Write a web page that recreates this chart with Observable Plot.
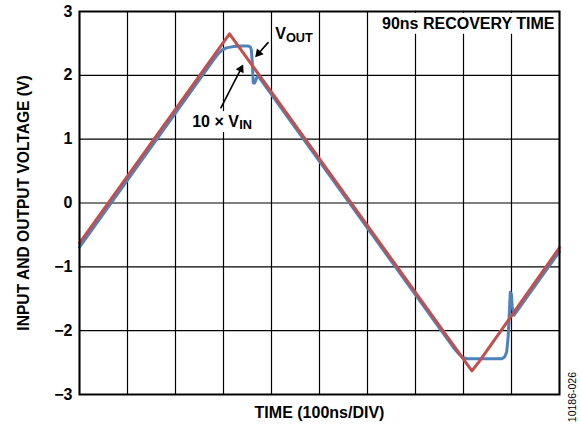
<!DOCTYPE html>
<html>
<head>
<meta charset="utf-8">
<script src="https://cdn.jsdelivr.net/npm/d3@7"></script>
<script src="https://cdn.jsdelivr.net/npm/@observablehq/plot@0.6"></script>
<style>
  html, body { margin: 0; padding: 0; background: #fff; }
</style>
</head>
<body>
<div id="chart"></div>
<script>
// ---- data ----
const xTicks = [0, 100, 200, 300, 400, 500, 600, 700, 800, 900, 1000]; // ns (100 ns/div)
const yTicks = [-3, -2, -1, 0, 1, 2, 3];

// 10 × VIN (red)
const vinTime = [0, 312.5, 817.5, 833, 1000];
const vinVolt = [-0.63, 2.65, -2.63, -2.48, -0.70];

// VOUT (blue)
const voutTime = [0, 280, 288, 296, 306, 320, 340, 352, 356, 358, 360, 362, 365, 369, 372,
                  780, 790, 798, 808, 880, 886, 890, 893, 895, 897.5, 899.5, 901.5, 905, 1000];
const voutVolt = [-0.69, 2.25, 2.33, 2.39, 2.43, 2.45, 2.46, 2.46, 2.44, 2.40, 2.20, 1.88, 1.88, 1.96, 1.99,
                  -2.275, -2.36, -2.42, -2.44, -2.44, -2.41, -2.33, -2.10, -1.80, -1.40, -1.42, -1.62, -1.76, -0.76];

// annotation texts and anchor points (time ns, volts)
const noteMainText = ["V", "10 × V"];
const noteMainTime = [407.7, 234.8];
const noteMainVolt = [2.577, 1.189];
const noteSubText = ["OUT", "IN"];
const noteSubTime = [430, 332.7];
const noteSubVolt = [2.52, 1.161];

// annotation arrows (tail -> tip), time ns, volts
const arrowTailTime = [393.8, 294];
const arrowTailVolt = [2.52, 1.482];
const arrowTipTime = [366, 341];
const arrowTipVolt = [2.285, 2.17];

const titleText = "90ns RECOVERY TIME";
const xLabel = "TIME (100ns/DIV)";
const yLabel = "INPUT AND OUTPUT VOLTAGE (V)";
const codeText = "10186-026";

// ---- layout ----
const W = 581, H = 425, ML = 79, MR = 22, MT = 11, MB = 31;
const kx = (W - ML - MR) / (xTicks[xTicks.length - 1] - xTicks[0]);
const ky = (H - MT - MB) / (yTicks[yTicks.length - 1] - yTicks[0]);

const vin = vinTime.map((t, i) => ({t, v: vinVolt[i]}));
const vout = voutTime.map((t, i) => ({t, v: voutVolt[i]}));
const mainNotes = noteMainText.map((s, i) => ({s, t: noteMainTime[i], v: noteMainVolt[i]}));
const subNotes = noteSubText.map((s, i) => ({s, t: noteSubTime[i], v: noteSubVolt[i]}));

const headR = 3.3;
const heads = arrowTipTime.map((tt, i) => {
  const sx = (tt - arrowTailTime[i]) * kx;
  const sy = -(arrowTipVolt[i] - arrowTailVolt[i]) * ky;
  const len = Math.hypot(sx, sy);
  const ux = sx / len, uy = sy / len;
  const back = 1.555 * headR;
  return {
    t1: arrowTailTime[i], v1: arrowTailVolt[i],
    t: tt - ux * back / kx, v: arrowTipVolt[i] + uy * back / ky,
    angle: Math.atan2(ux, -uy) * 180 / Math.PI
  };
});

const RED = "#c0504d", BLUE = "#4f81bd";
const FONT = "'Liberation Sans', Arial, Helvetica, sans-serif";

const chart = Plot.plot({
  width: W, height: H,
  marginLeft: ML, marginRight: MR, marginTop: MT, marginBottom: MB,
  style: {fontFamily: FONT, fontSize: "16px", fontWeight: "bold", background: "#fff", color: "#000"},
  x: {domain: [xTicks[0], xTicks[xTicks.length - 1]], axis: null},
  y: {domain: [yTicks[0], yTicks[yTicks.length - 1]], axis: null},
  marks: [
    Plot.gridX(xTicks, {stroke: "#000", strokeOpacity: 1, strokeWidth: 1.2}),
    Plot.gridY(yTicks, {stroke: "#000", strokeOpacity: 1, strokeWidth: 1.2}),
    Plot.line(vout, {x: "t", y: "v", stroke: BLUE, strokeWidth: 3, strokeLinejoin: "round", strokeLinecap: "round"}),
    Plot.line(vin, {x: "t", y: "v", stroke: RED, strokeWidth: 3, strokeLinejoin: "round", strokeLinecap: "round"}),
    Plot.text([titleText], {frameAnchor: "top-right", text: d => d, textAnchor: "end", lineAnchor: "bottom",
      dx: -5, dy: 17.3, fontSize: 16, fill: "#000", ariaDescription: "boxed"}),
    Plot.text(mainNotes, {x: "t", y: "v", text: "s", textAnchor: "start", lineAnchor: "bottom",
      fontSize: 16, fill: "#000", ariaDescription: "boxed"}),
    Plot.text(subNotes, {x: "t", y: "v", text: "s", textAnchor: "start", lineAnchor: "bottom",
      fontSize: 12.8, fill: "#000", ariaDescription: "boxed"}),
    Plot.frame({stroke: "#000", strokeWidth: 2}),
    Plot.link(heads, {x1: "t1", y1: "v1", x2: "t", y2: "v", stroke: "#000", strokeWidth: 1.6}),
    Plot.dot(heads, {x: "t", y: "v", r: headR, symbol: "triangle", fill: "#000", stroke: "none", rotate: "angle"}),
    Plot.axisY(yTicks, {tickSize: 0, tickPadding: 7, fontSize: 16, label: null, tickFormat: d3.format("d")}),
    Plot.text([xLabel], {frameAnchor: "bottom", text: d => d, lineAnchor: "bottom", dy: 23, fontSize: 16, fill: "#000"}),
    Plot.text([yLabel], {frameAnchor: "left", text: d => d, rotate: -90, textAnchor: "middle", lineAnchor: "bottom",
      dx: -51, fontSize: 15.6, fill: "#000"}),
    Plot.text([codeText], {frameAnchor: "bottom-right", text: d => d, rotate: -90, textAnchor: "start", lineAnchor: "bottom",
      dx: 16.2, dy: 27.7, fontSize: 10.5, fontWeight: "normal", fill: "#000"})
  ]
});

document.getElementById("chart").append(chart);

// white boxes behind boxed annotation texts
(function () {
  const svg = chart;
  const groups = svg.querySelectorAll('g[aria-description="boxed"]');
  if (!groups.length) return;
  const boxG = document.createElementNS("http://www.w3.org/2000/svg", "g");
  groups[0].parentNode.insertBefore(boxG, groups[0]);
  const inv = svg.getScreenCTM().inverse();
  groups.forEach(g => {
    g.querySelectorAll("text").forEach(tx => {
      const b = tx.getBBox();
      const m = inv.multiply(tx.getScreenCTM());
      const pad = 2.5;
      const r = document.createElementNS("http://www.w3.org/2000/svg", "rect");
      r.setAttribute("x", m.e + b.x - pad);
      r.setAttribute("y", m.f + b.y - pad + 0.5);
      r.setAttribute("width", b.width + 2 * pad);
      r.setAttribute("height", b.height + 2 * pad - 1);
      r.setAttribute("fill", "#fff");
      boxG.appendChild(r);
    });
  });
})();
</script>
</body>
</html>
